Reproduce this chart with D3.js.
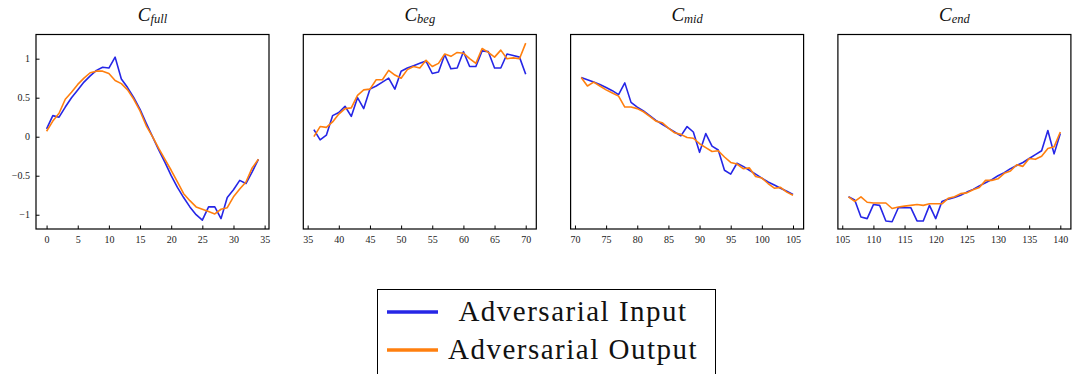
<!DOCTYPE html>
<html>
<head>
<meta charset="utf-8">
<script src="https://cdn.jsdelivr.net/npm/d3@7"></script>
<style>
  html, body { margin: 0; padding: 0; background: #fff; }
  svg { display: block; }
</style>
</head>
<body>
<svg id="chart" width="1073" height="374"></svg>
<script>
// Four segments of the curve, each shown as adversarial input vs. model output.
const panelTitles = [["C", "full"], ["C", "beg"], ["C", "mid"], ["C", "end"]];
const panelStarts = [0, 36, 71, 106];

const inputFull = [0.10, 0.27, 0.25, 0.38, 0.50, 0.60, 0.70, 0.78, 0.85, 0.89, 0.88, 1.02, 0.74, 0.63, 0.50, 0.35, 0.17, 0.00, -0.17, -0.33, -0.50, -0.65, -0.78, -0.90, -1.00, -1.07, -0.90, -0.90, -1.05, -0.78, -0.68, -0.56, -0.60, -0.45, -0.29];
const outputFull = [0.07, 0.20, 0.30, 0.48, 0.57, 0.67, 0.75, 0.82, 0.84, 0.84, 0.81, 0.72, 0.68, 0.60, 0.48, 0.33, 0.14, 0.00, -0.15, -0.29, -0.43, -0.58, -0.73, -0.82, -0.90, -0.93, -0.96, -0.99, -0.93, -0.91, -0.77, -0.67, -0.58, -0.40, -0.29];

const inputBeg = [0.09, -0.04, 0.02, 0.27, 0.31, 0.39, 0.26, 0.50, 0.36, 0.61, 0.65, 0.70, 0.75, 0.61, 0.84, 0.88, 0.91, 0.94, 0.97, 0.81, 0.83, 1.05, 0.87, 0.88, 1.09, 0.90, 0.90, 1.10, 1.09, 0.88, 0.88, 1.06, 1.04, 1.02, 0.80];
const outputBeg = [0.00, 0.13, 0.12, 0.19, 0.29, 0.36, 0.37, 0.53, 0.60, 0.61, 0.73, 0.73, 0.85, 0.79, 0.75, 0.86, 0.90, 0.88, 0.98, 0.90, 0.94, 1.06, 1.03, 1.08, 1.07, 1.00, 0.94, 1.13, 1.08, 1.02, 1.11, 1.00, 1.01, 1.00, 1.20];

const inputMid = [0.76, 0.73, 0.70, 0.67, 0.63, 0.59, 0.54, 0.69, 0.44, 0.38, 0.33, 0.27, 0.21, 0.16, 0.11, 0.06, 0.01, 0.13, 0.06, -0.20, 0.04, -0.12, -0.17, -0.43, -0.48, -0.34, -0.38, -0.43, -0.48, -0.53, -0.58, -0.62, -0.66, -0.70, -0.74];
const outputMid = [0.76, 0.65, 0.70, 0.65, 0.60, 0.56, 0.52, 0.38, 0.38, 0.36, 0.32, 0.26, 0.20, 0.18, 0.11, 0.05, 0.03, -0.01, -0.02, -0.09, -0.14, -0.19, -0.18, -0.26, -0.33, -0.35, -0.41, -0.40, -0.51, -0.53, -0.60, -0.66, -0.65, -0.71, -0.75];

const inputEnd = [-0.77, -0.81, -1.03, -1.05, -0.87, -0.88, -1.08, -1.09, -0.91, -0.91, -0.91, -1.08, -1.08, -0.88, -1.05, -0.83, -0.80, -0.78, -0.75, -0.71, -0.675, -0.63, -0.59, -0.55, -0.50, -0.46, -0.41, -0.37, -0.33, -0.28, -0.23, -0.18, 0.08, -0.22, 0.04];
const outputEnd = [-0.77, -0.83, -0.77, -0.84, -0.85, -0.85, -0.85, -0.92, -0.90, -0.89, -0.88, -0.87, -0.88, -0.86, -0.86, -0.86, -0.79, -0.77, -0.73, -0.72, -0.68, -0.65, -0.56, -0.56, -0.54, -0.47, -0.44, -0.36, -0.38, -0.28, -0.29, -0.25, -0.15, -0.13, 0.06];

const inputSeries = [inputFull, inputBeg, inputMid, inputEnd];
const outputSeries = [outputFull, outputBeg, outputMid, outputEnd];

const yTicks = [-1, -0.5, 0, 0.5, 1];
const xTicks = [
  [0, 5, 10, 15, 20, 25, 30, 35],
  [35, 40, 45, 50, 55, 60, 65, 70],
  [70, 75, 80, 85, 90, 95, 100, 105],
  [105, 110, 115, 120, 125, 130, 135, 140]
];
const yLimits = [-1.183, 1.31];
const legendLabels = ["Adversarial Input", "Adversarial Output"];

// ---- styling / layout ----
const COLOR_IN = "#2626e6";
const COLOR_OUT = "#ff7f0e";
const SERIF = "'Liberation Serif', 'DejaVu Serif', serif";

const panel = { left: 36, width: 233, step: 267.3, top: 34.5, bottom: 229 };

const svg = d3.select("#chart");

const y = d3.scaleLinear().domain(yLimits).range([panel.bottom, panel.top]);

const fmt = v => (v < 0 ? "\u2212" : "") + String(Math.abs(v));

panelTitles.forEach((title, i) => {
  const x0 = panel.left + i * panel.step;
  const start = panelStarts[i];
  const n = inputSeries[i].length;
  const x = d3.scaleLinear()
    .domain([start - 0.05 * (n - 1), start + (n - 1) * 1.05])
    .range([x0, x0 + panel.width]);

  const g = svg.append("g");

  // series lines
  const line = d3.line()
    .x((d, k) => x(start + k))
    .y(d => y(d));

  g.append("path")
    .datum(inputSeries[i])
    .attr("d", line)
    .attr("fill", "none")
    .attr("stroke", COLOR_IN)
    .attr("stroke-width", 1.6)
    .attr("stroke-linejoin", "round");

  g.append("path")
    .datum(outputSeries[i])
    .attr("d", line)
    .attr("fill", "none")
    .attr("stroke", COLOR_OUT)
    .attr("stroke-width", 1.6)
    .attr("stroke-linejoin", "round");

  // x axis, ticks pointing inward
  const xAxis = d3.axisBottom(x)
    .tickValues(xTicks[i])
    .tickSizeInner(-3.5)
    .tickSizeOuter(0)
    .tickPadding(7)
    .tickFormat(d => String(d));

  const gx = g.append("g")
    .attr("transform", `translate(0,${panel.bottom})`)
    .call(xAxis);
  gx.select(".domain").remove();
  gx.selectAll(".tick line").attr("stroke", "#000").attr("stroke-width", 1);
  gx.selectAll(".tick text")
    .attr("font-family", SERIF)
    .attr("font-size", 10)
    .attr("fill", "#222");

  // y axis labels only on the first panel
  if (i === 0) {
    const yAxis = d3.axisLeft(y)
      .tickValues(yTicks)
      .tickSizeInner(-3.5)
      .tickSizeOuter(0)
      .tickPadding(6)
      .tickFormat(fmt);
    const gy = g.append("g")
      .attr("transform", `translate(${x0},0)`)
      .call(yAxis);
    gy.select(".domain").remove();
    gy.selectAll(".tick line").attr("stroke", "#000").attr("stroke-width", 1);
    gy.selectAll(".tick text")
      .attr("font-family", SERIF)
      .attr("font-size", 10)
      .attr("fill", "#222");
  }

  // frame
  g.append("rect")
    .attr("x", x0)
    .attr("y", panel.top)
    .attr("width", panel.width)
    .attr("height", panel.bottom - panel.top)
    .attr("fill", "none")
    .attr("stroke", "#000")
    .attr("stroke-width", 1.2);

  // title: italic C with italic subscript
  const t = g.append("text")
    .attr("x", x0 + panel.width / 2)
    .attr("y", 21)
    .attr("text-anchor", "middle")
    .attr("font-family", SERIF)
    .attr("font-style", "italic")
    .attr("fill", "#111");
  t.append("tspan").attr("font-size", 19).text(title[0]);
  t.append("tspan").attr("font-size", 12.5).attr("dy", 2).text(title[1]);
});

// legend
const legend = svg.append("g");
legend.append("rect")
  .attr("x", 377.5)
  .attr("y", 289.5)
  .attr("width", 338)
  .attr("height", 120)
  .attr("fill", "#fff")
  .attr("stroke", "#000")
  .attr("stroke-width", 1);

const legendRows = [
  { label: legendLabels[0], color: COLOR_IN, ly: 312, ty: 320.5 },
  { label: legendLabels[1], color: COLOR_OUT, ly: 350, ty: 358.5 }
];
legendRows.forEach(r => {
  legend.append("line")
    .attr("x1", 387).attr("x2", 438)
    .attr("y1", r.ly).attr("y2", r.ly)
    .attr("stroke", r.color)
    .attr("stroke-width", 3.5);
  legend.append("text")
    .attr("x", 573)
    .attr("y", r.ty)
    .attr("text-anchor", "middle")
    .attr("font-family", SERIF)
    .attr("font-size", 29)
    .attr("letter-spacing", 1.5)
    .attr("fill", "#111")
    .text(r.label);
});
</script>
</body>
</html>
